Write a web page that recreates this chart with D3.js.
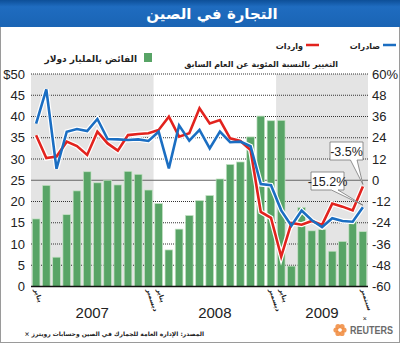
<!DOCTYPE html>
<html><head><meta charset="utf-8">
<script src="https://cdn.jsdelivr.net/npm/d3@7"></script>
<style>
html,body{margin:0;padding:0;background:#fff;}
svg{display:block;}
.num{font-family:"Liberation Sans Narrow","Liberation Sans",Arial,sans-serif;}
.ar{font-family:"DejaVu Sans","Noto Sans",sans-serif;font-weight:bold;}
</style></head>
<body>
<svg id="c" width="400" height="343"></svg>
<script>
// ---- data ----
const months = ["Jan07","Feb07","Mar07","Apr07","May07","Jun07","Jul07","Aug07","Sep07","Oct07","Nov07","Dec07",
"Jan08","Feb08","Mar08","Apr08","May08","Jun08","Jul08","Aug08","Sep08","Oct08","Nov08","Dec08",
"Jan09","Feb09","Mar09","Apr09","May09","Jun09","Jul09","Aug09","Sep09"];
const surplus = [15.9,23.8,6.9,16.9,22.5,27.0,24.4,25.0,23.9,27.1,26.4,22.7,
19.5,8.6,13.5,16.7,20.2,21.4,25.3,28.7,29.3,35.2,40.1,39.0,
39.1,4.8,18.6,13.1,13.4,8.3,10.6,15.7,12.9];
const exportsPct = [32.0,51.3,6.5,27.4,28.9,27.8,34.6,23.3,23.1,22.7,23.1,22.2,
27.4,6.7,31.0,22.3,28.4,18.0,27.5,21.5,21.8,19.2,-2.2,-2.8,
-17.0,-25.7,-17.1,-22.6,-26.4,-21.4,-23.0,-23.4,-15.2];
const importsPct = [25.4,12.5,13.4,21.8,19.3,14.3,27.4,20.8,16.7,25.5,26.1,26.5,
28.4,35.9,24.6,26.5,40.6,32.1,34.0,23.7,22.2,17.1,-17.9,-21.3,
-43.1,-24.1,-25.1,-23.0,-25.2,-13.2,-14.9,-17.0,-3.5];
const leftTicks = [0,5,10,15,20,25,30,35,40,45,50];
const leftTickLabels = ["0","5","10","15","20","25","30","35","40","45","$50"];
const rightTicks = [-60,-48,-36,-24,-12,0,12,24,36,48,60];
const rightTickLabels = ["-60","-48","-36","-24","-12","0","12","24","36","48","60%"];
const monthTicks = [{i:0,t:"يناير"},{i:11,t:"ديسمبر"},{i:12,t:"يناير"},{i:23,t:"ديسمبر"},{i:24,t:"يناير"},{i:32,t:"سبتمبر"}];
const years = [{from:0,to:11,t:"2007"},{from:12,to:23,t:"2008"},{from:24,to:32,t:"2009"}];
const callouts = [{series:"imports",i:32,t:"-3.5%"},{series:"exports",i:32,t:"-15.2%"}];

// ---- layout ----
const svg = d3.select("#c");
const L = 31, R = 368, T = 74, B = 286.5;
const x = d3.scaleBand().domain(d3.range(months.length)).range([L,R]).paddingInner(0.25).paddingOuter(0.125);
const yL = d3.scaleLinear().domain([0,50]).range([B,T]);
const yR = d3.scaleLinear().domain([-60,60]).range([B,T]);
const cx = i => x(i) + x.bandwidth()/2;
const step = x.step();

// frame
svg.append("rect").attr("x",0.5).attr("y",0.5).attr("width",399).attr("height",342).attr("fill","#fff").attr("stroke","#9a9a9a");

// title band
const defs = svg.append("defs");
const g1 = defs.append("linearGradient").attr("id","tb").attr("x1",0).attr("y1",0).attr("x2",0).attr("y2",1);
g1.append("stop").attr("offset","0%").attr("stop-color","#0d4f98");
g1.append("stop").attr("offset","25%").attr("stop-color","#1f6cc0");
g1.append("stop").attr("offset","100%").attr("stop-color","#1a64b4");
svg.append("rect").attr("x",0).attr("y",0).attr("width",400).attr("height",27).attr("fill","url(#tb)");
svg.append("text").attr("class","ar").attr("x",212).attr("y",19).attr("text-anchor","middle")
  .attr("fill","#fff").attr("font-size",15).text("التجارة في الصين");

// shading
svg.append("rect").attr("x",L).attr("y",T).attr("width",12*step).attr("height",B-T).attr("fill","#e4e4e4");
svg.append("rect").attr("x",L+24*step).attr("y",T).attr("width",R-(L+24*step)).attr("height",B-T).attr("fill","#e4e4e4");

// gridlines
svg.append("g").selectAll("line").data(leftTicks.filter(d=>d!==0 && d!==25)).join("line")
  .attr("x1",L).attr("x2",R).attr("y1",d=>yL(d)).attr("y2",d=>yL(d))
  .attr("stroke","#333").attr("stroke-width",1).attr("stroke-dasharray","1,1");
svg.append("line").attr("x1",L).attr("x2",R).attr("y1",yL(25)).attr("y2",yL(25)).attr("stroke","#666").attr("stroke-width",1);

// bars
svg.append("g").selectAll("rect").data(surplus).join("rect")
  .attr("x",(d,i)=>x(i)).attr("width",x.bandwidth())
  .attr("y",d=>yL(d)).attr("height",d=>B-yL(d))
  .attr("fill","#58a466").attr("stroke","#c4e2c4").attr("stroke-width",0.7);

// axis baseline
svg.append("line").attr("x1",L).attr("x2",R).attr("y1",B).attr("y2",B).attr("stroke","#111").attr("stroke-width",1.5);

// lines
const line = d3.line().x((d,i)=>cx(i)).y(d=>yR(d));
[importsPct,exportsPct].forEach(data=>{
  svg.append("path").attr("d",line(data)).attr("fill","none").attr("stroke","#fff").attr("stroke-width",5);
});
[[importsPct,"#e2231e"],[exportsPct,"#1b6ec2"]].forEach(([data,col])=>{
  svg.append("path").attr("d",line(data)).attr("fill","none").attr("stroke",col).attr("stroke-width",2.6);
});

// left axis labels
svg.append("g").selectAll("text").data(leftTicks).join("text").attr("class","num")
  .attr("x",25).attr("y",d=>yL(d)+4.5).attr("text-anchor","end").attr("font-size",13).attr("fill","#222")
  .text((d,i)=>leftTickLabels[i]);
// right axis labels
svg.append("g").selectAll("text").data(rightTicks).join("text").attr("class","num")
  .attr("x",372).attr("y",d=>yR(d)+4.5).attr("text-anchor","start").attr("font-size",13).attr("fill","#222")
  .text((d,i)=>rightTickLabels[i]);

// month tick labels
svg.append("g").selectAll("text").data(monthTicks).join("text").attr("class","ar")
  .attr("transform",d=>`translate(${cx(d.i)-2},${B+3}) rotate(72)`)
  .attr("font-size",6.5).attr("fill","#222").attr("text-anchor","start").text(d=>d.t);
svg.append("text").attr("class","num").attr("x",cx(32)+2).attr("y",321).attr("text-anchor","middle").attr("font-size",7).attr("fill","#222").text("×");

// years
svg.append("g").selectAll("text").data(years).join("text").attr("class","num")
  .attr("x",d=>(cx(d.from)+cx(d.to))/2).attr("y",318).attr("text-anchor","middle")
  .attr("font-size",15).attr("fill","#222").text(d=>d.t);

// legends
svg.append("line").attr("x1",383).attr("x2",396).attr("y1",45).attr("y2",45).attr("stroke","#1b6ec2").attr("stroke-width",2.5);
svg.append("text").attr("class","ar").attr("x",380).attr("y",49).attr("text-anchor","end").attr("font-size",8).attr("fill","#222").text("صادرات");
svg.append("line").attr("x1",306).attr("x2",319).attr("y1",45).attr("y2",45).attr("stroke","#e2231e").attr("stroke-width",2.5);
svg.append("text").attr("class","ar").attr("x",303).attr("y",49).attr("text-anchor","end").attr("font-size",8).attr("fill","#222").text("واردات");
svg.append("rect").attr("x",144).attr("y",53).attr("width",8).attr("height",9).attr("fill","#58a466");
svg.append("text").attr("class","ar").attr("x",137).attr("y",62).attr("text-anchor","end").attr("font-size",9).attr("fill","#222").text("الفائض بالمليار دولار");
svg.append("text").attr("class","ar").attr("x",338).attr("y",67).attr("text-anchor","end").attr("font-size",8).attr("fill","#222").text("التغيير بالنسبة المئوية عن العام السابق");

// callouts
const boxes = [{bx:330,by:142,bw:33,bh:18},{bx:311,by:172,bw:33,bh:18}];
callouts.forEach((c,k)=>{
  const v = (c.series==="imports"?importsPct:exportsPct)[c.i];
  const px = cx(c.i), py = yR(v) - 2;
  const b = boxes[k];
  const g = svg.append("g");
  const tipL = b.bx + b.bw*0.62, tipR = b.bx + b.bw*0.82;
  g.append("path").attr("d",`M${b.bx},${b.by}H${b.bx+b.bw}V${b.by+b.bh}H${tipR}L${px},${py}L${tipL},${b.by+b.bh}H${b.bx}Z`)
    .attr("fill","#fff").attr("stroke","#777").attr("stroke-width",0.8);
  g.append("text").attr("class","num").attr("x",b.bx+b.bw/2).attr("y",b.by+b.bh/2+4.5).attr("text-anchor","middle")
    .attr("font-size",12.5).attr("fill","#222").text(c.t);
});

// source
svg.append("text").attr("class","ar").attr("x",204).attr("y",336).attr("direction","rtl").attr("text-anchor","start")
  .attr("font-size",6).attr("fill","#222")
  .text("المصدر: الإدارة العامة للجمارك في الصين وحسابات رويترز ×");

// Reuters logo
const lg = svg.append("g").attr("transform","translate(340,330)");
[0,60,120,180,240,300].forEach(a=>{
  lg.append("circle").attr("cx",4*Math.cos(a*Math.PI/180)).attr("cy",4*Math.sin(a*Math.PI/180)).attr("r",2.6).attr("fill","#f08a3c").attr("opacity",0.85);
});
lg.append("circle").attr("r",1.8).attr("fill","#fff");
svg.append("text").attr("class","num").attr("x",350).attr("y",334).attr("font-size",10.5).attr("font-weight","bold")
  .attr("textLength",43).attr("lengthAdjust","spacingAndGlyphs").attr("fill","#6a6a6a").text("REUTERS");
</script>
</body></html>
